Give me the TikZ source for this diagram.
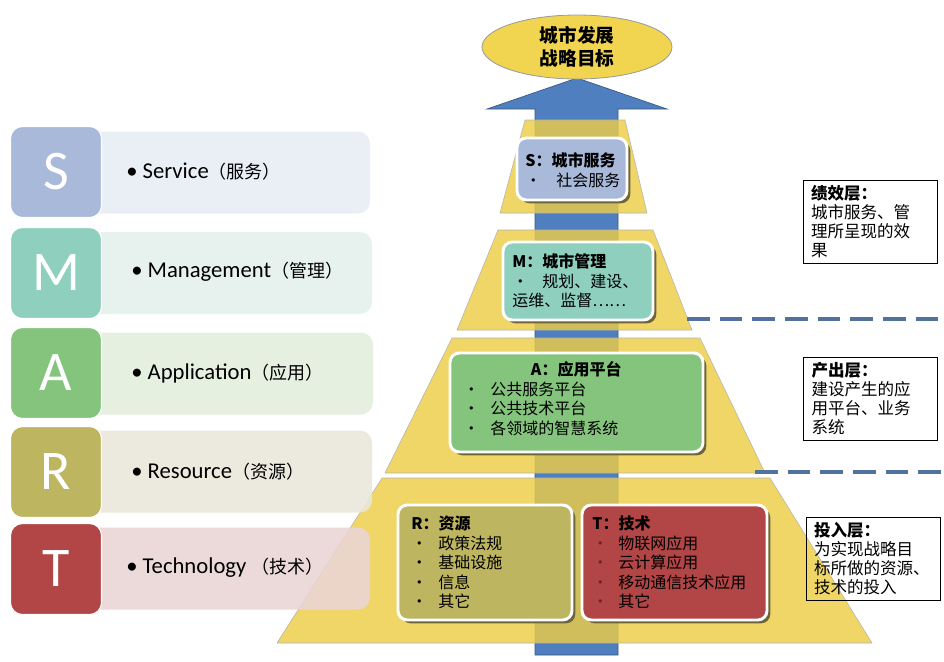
\documentclass[tikz,border=0pt]{standalone}
\usepackage{fontspec}
\setmainfont{Carlito}
\newfontfamily\cjk{Noto Sans CJK SC}
\usetikzlibrary{positioning, shapes.geometric, shadows}

\newdimen\pxu
\pxu=0.75pt

\definecolor{sBlue}{HTML}{A8B9DA}
\definecolor{mTeal}{HTML}{8ECFBE}
\definecolor{aGreen}{HTML}{84C47C}
\definecolor{rOlive}{HTML}{BDB560}
\definecolor{tRed}{HTML}{B24545}
\definecolor{sBar}{HTML}{E8ECF4}
\definecolor{mBar}{HTML}{E4F1EC}
\definecolor{aBar}{HTML}{E3EEDD}
\definecolor{rBar}{HTML}{EAE8DA}
\definecolor{tBar}{HTML}{EAD5D6}
\definecolor{pyrYellow}{HTML}{ECCD46}
\definecolor{goalYellow}{HTML}{F1D551}
\definecolor{shaftBlue}{HTML}{4F7FBE}
\definecolor{dashBlue}{HTML}{51729C}
\definecolor{shadowOlive}{HTML}{6E6538}
\definecolor{bulletRed}{HTML}{6E2222}

\newcommand{\itm}[2][27]{\makebox[#1\pxu][l]{•}#2}
\newcommand{\ritm}[1]{\makebox[26\pxu][l]{\textcolor{bulletRed}{•}}#1}
\newcommand{\cjkpar}[1]{{\cjk\fontsize{13.5}{16}\selectfont #1}}

\begin{document}
\begin{tikzpicture}[
  x=0.75pt, y=-0.75pt,
  every node/.style={inner sep=0pt},
  letterbox/.style={draw=white, line width=0.8pt, rounded corners=9pt,
                    minimum width=91\pxu, minimum height=91\pxu,
                    text=white, font=\fontsize{42}{44}\selectfont},
  bar/.style={rounded corners=9pt, fill opacity=0.88,
              minimum width=290\pxu, minimum height=82\pxu},
  bartext/.style={anchor=west, font=\fontsize{17}{19}\selectfont},
  layer/.style={fill=pyrYellow, fill opacity=0.82, draw=black!30, line width=0.4pt},
  card/.style={draw=white, line width=2.2pt, rounded corners=7pt,
               drop shadow={shadow xshift=2.5pt, shadow yshift=-2.5pt,
                            fill=shadowOlive, opacity=1}},
  cardtext/.style={anchor=west, align=left, font=\cjk\fontsize{12}{14.6}\selectfont},
  goal/.style={ellipse, draw=black!40, line width=0.6pt, fill=goalYellow,
               minimum width=190\pxu, minimum height=64\pxu, align=center,
               font=\cjk\bfseries\fontsize{14}{17.25}\selectfont},
  note/.style={draw=black, line width=0.6pt,
               minimum width=134\pxu, minimum height=83\pxu,
               text width=118\pxu, align=left,
               font=\cjk\fontsize{12.4}{14.3}\selectfont},
  dashline/.style={draw=dashBlue, line width=2.4pt, dash pattern=on 17pt off 7.5pt}
]
  \useasboundingbox[fill=white] (0,0) rectangle (944,661);

  % Arrow behind the pyramid
  \path[fill=shaftBlue, draw=shaftBlue!70!black, line width=0.5pt]
    (535,655) -- (535,109) -- (487,109) -- (577,78) -- (667,109)
    -- (618,109) -- (618,655) -- cycle;

  % Pyramid layers, bottom to top
  \path[layer] (382,478) -- (770,478) -- (872,643) -- (277,643) -- cycle;
  \path[layer] (452,338) -- (700,338) -- (765,473) -- (385,473) -- cycle;
  \path[layer] (498,230) -- (653,230) -- (692,330) -- (457,330) -- cycle;
  \path[layer] (525,120) -- (625,120) -- (647,213) -- (500,213) -- cycle;

  % SMART column
  \node[bar, fill=sBar] (barS) at (225,172.5) {};
  \node[bar, fill=mBar] (barM) at (227,273)   {};
  \node[bar, fill=aBar] (barA) at (228,373.5) {};
  \node[bar, fill=rBar] (barR) at (227,471.5) {};
  \node[bar, fill=tBar] (barT) at (225,568.5) {};

  \node[letterbox, fill=sBlue]  (sqS) at (56,172) {S};
  \node[letterbox, fill=mTeal]  (sqM) at (56,273) {M};
  \node[letterbox, fill=aGreen] (sqA) at (56,373) {A};
  \node[letterbox, fill=rOlive] (sqR) at (56,472) {R};
  \node[letterbox, fill=tRed]   (sqT) at (56,569) {T};

  \node[bartext] (txtS) at (126,172) {• Service\cjkpar{（服务）}};
  \node[bartext] (txtM) at (131,272) {• Management\cjkpar{（管理）}};
  \node[bartext] (txtA) at (131,373) {• Application\cjkpar{（应用）}};
  \node[bartext] (txtR) at (131,472) {• Resource\cjkpar{（资源）}};
  \node[bartext] (txtT) at (126,568) {• Technology \cjkpar{（技术）}};

  % Cards on the pyramid
  \node[card, fill=sBlue,  minimum width=110\pxu, minimum height=62\pxu]  (cardS) at (572,169)   {};
  \node[card, fill=mTeal,  minimum width=150\pxu, minimum height=78\pxu]  (cardM) at (578,281)   {};
  \node[card, fill=aGreen, minimum width=253\pxu, minimum height=99\pxu]  (cardA) at (576.5,402.5) {};
  \node[card, fill=rOlive, minimum width=174\pxu, minimum height=115\pxu] (cardR) at (485,562.5) {};
  \node[card, fill=tRed,   minimum width=185\pxu, minimum height=115\pxu] (cardT) at (674.5,562.5) {};

  \node[cardtext] (textS) at (525,170)
    {\textbf{S：城市服务}\\\itm[31]{社会服务}};
  \node[cardtext] (textM) at (512,281)
    {\textbf{M：城市管理}\\\itm[30]{规划、建设、}\\运维、监督……};
  \node[cardtext] (textA) at (463,398.5)
    {\makebox[226\pxu][c]{\bfseries A：应用平台}\\\itm{公共服务平台}\\\itm{公共技术平台}\\\itm{各领域的智慧系统}};
  \node[cardtext] (textR) at (411,562.5)
    {\textbf{R：资源}\\\itm{政策法规}\\\itm{基础设施}\\\itm{信息}\\\itm{其它}};
  \node[cardtext] (textT) at (592,562.5)
    {\textbf{T：技术}\\\ritm{物联网应用}\\\ritm{云计算应用}\\\ritm{移动通信技术应用}\\\ritm{其它}};

  % Goal on top of the arrow
  \node[goal] (goal) at (577,47) {城市发展\\战略目标};

  % Layer notes and dividers
  \node[note] (notePerf) at (870,221.5)
    {\textbf{绩效层：}\\城市服务、管\\理所呈现的效\\果};
  \node[note] (noteOut)  at (870.5,398.5)
    {\textbf{产出层：}\\建设产生的应\\用平台、业务\\系统};
  \node[note] (noteIn)   at (873,558.5)
    {\textbf{投入层：}\\为实现战略目\\标所做的资源、\\技术的投入};

  \coordinate (perfEdge) at (687,319);
  \coordinate (perfEnd)  at (944,319);
  \coordinate (outEdge)  at (755,472);
  \coordinate (outEnd)   at (944,472);
  \draw[dashline] (perfEdge) -- (perfEnd);
  \draw[dashline] (outEdge) -- (outEnd);
\end{tikzpicture}
\end{document}
